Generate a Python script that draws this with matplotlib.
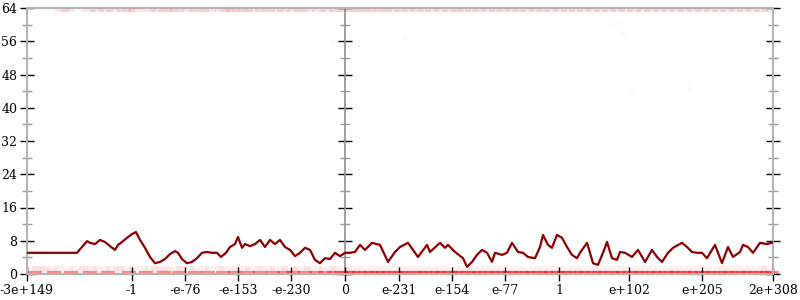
import matplotlib
matplotlib.use("Agg")
import matplotlib.pyplot as plt
from matplotlib.ticker import MultipleLocator

plt.rcParams["font.family"] = ["DejaVu Serif"]

# ─── Données (positions le long de l'axe des motifs de bits) ────────────────
TICK_POS    = [0, 105, 158, 211, 264, 318, 372, 425, 478, 532, 602, 675, 746]
TICK_LABELS = ["-3e+149", "-1", "-e-76", "-e-153", "-e-230", "0",
               "e-231", "e-154", "e-77", "1", "e+102", "e+205", "2e+308"]
ZERO_POS    = 318

line_x = [0, 50, 55, 60, 63, 68, 73, 78, 83, 88, 91, 95, 100, 105, 109, 113,
          118, 123, 128, 133, 138, 143, 148, 151, 155, 160, 165, 170, 175, 180,
          185, 190, 194, 199, 203, 208, 211, 215, 218, 223, 228, 233, 238, 243,
          248, 253, 258, 263, 268, 273, 278, 283, 288, 293, 298, 303, 308, 313,
          318, 323, 328, 333, 338, 345, 353, 361, 368, 373, 381, 386, 391, 400,
          403, 413, 418, 421, 428, 436, 440, 445, 450, 455, 460, 465, 468, 475,
          480, 485, 491, 496, 501, 508, 513, 516, 521, 525, 530, 535, 540, 545,
          550, 553, 560, 563, 566, 571, 576, 580, 585, 590, 593, 598, 605, 611,
          618, 625, 630, 635, 641, 646, 655, 660, 665, 670, 675, 680, 688, 695,
          701, 706, 713, 716, 721, 726, 733, 740, 747]
line_y = [5.1, 5.1, 6.5, 7.9, 7.5, 7.2, 8.2, 7.7, 6.7, 5.8, 7.0, 7.7, 8.7,
          9.6, 10.1, 8.2, 6.3, 4.1, 2.6, 2.9, 3.6, 4.8, 5.5, 5.1, 3.6, 2.6,
          2.9, 3.8, 5.1, 5.3, 5.1, 5.1, 4.1, 5.1, 6.5, 7.2, 8.9, 6.3, 7.2,
          6.7, 7.2, 8.2, 6.5, 8.2, 7.2, 8.2, 6.5, 5.8, 4.3, 5.1, 6.3, 5.8,
          3.4, 2.6, 3.8, 3.6, 5.1, 4.3, 5.1, 5.1, 5.3, 7.0, 5.8, 7.5, 7.0,
          2.9, 5.3, 6.5, 7.5, 5.8, 4.1, 7.0, 5.3, 7.5, 6.3, 7.0, 5.3, 3.8,
          1.7, 2.9, 4.6, 5.8, 5.1, 2.9, 5.1, 4.6, 5.1, 7.5, 5.3, 5.1, 4.1,
          3.8, 6.5, 9.4, 7.0, 6.3, 9.4, 8.7, 6.5, 4.6, 3.8, 5.1, 7.5, 5.1,
          2.6, 2.2, 5.1, 7.7, 3.8, 3.4, 5.3, 5.1, 4.1, 5.8, 2.9, 5.8, 4.1,
          2.9, 5.1, 6.3, 7.5, 6.5, 5.3, 5.1, 5.1, 3.8, 7.0, 2.6, 6.5, 4.1,
          5.3, 7.0, 6.5, 5.1, 7.5, 7.2, 7.7]

# points bruts, très pâles
bot_x = [8, 27, 44, 63, 81, 102, 119, 137, 152, 168, 181, 196, 208, 221, 233,
         246, 257, 266, 278, 289, 298, 307, 314, 321, 326, 332, 339, 344, 351,
         356, 362, 369, 374, 380, 387, 393, 398, 405, 411, 416, 423, 429, 434,
         441, 447, 452, 459, 465, 470, 477, 483, 488, 495, 501, 506, 513, 519,
         524, 531, 537, 542, 549, 555, 560, 567, 573, 578, 585, 591, 596, 603,
         609, 614, 621, 627, 632, 639, 645, 650, 657, 663, 668, 675, 681, 686,
         693, 699, 704, 711, 717, 722, 729, 735, 740, 745]
bot_y = 0.3
low_x = [5, 14, 22, 37, 53, 61, 74, 88, 96, 111, 127, 133, 146, 158, 173, 187,
         201, 214, 227, 239, 252, 263, 274, 286, 301, 312, 329, 347, 366, 384,
         402, 419, 437, 456, 474, 492, 511, 529, 548, 566, 584, 603, 621, 640,
         658, 676, 695, 713, 731, 744]
low_y = 1.2
top_x = [35, 41, 62, 70, 79, 86, 97, 101, 108, 122, 131, 138, 145, 150, 160,
         169, 175, 182, 195, 200, 206, 213, 219, 226, 235, 241, 250, 257, 266,
         274, 280, 292, 300, 309, 315, 323, 329, 337, 343, 352, 358, 366, 374,
         381, 390, 397, 405, 414, 422, 430, 437, 445, 452, 461, 469, 476, 485,
         492, 500, 509, 516, 524, 533, 541, 549, 557, 566, 574, 582, 591, 599,
         607, 616, 624, 633, 641, 650, 658, 667, 675, 684, 692, 700, 709, 717,
         726, 734, 742]
top_y = 63.6
stray_x = [306, 343, 378, 428, 583, 592, 595, 605, 663, 610]
stray_y = [55.9, 62.8, 57.0, 62.8, 59.6, 60.4, 57.7, 43.8, 44.7, 62.8]

# ─── Figure ─────────────────────────────────────────────────────────────────
fig = plt.figure(figsize=(8, 3), dpi=100)
ax = fig.add_axes([27 / 800, 26 / 300, 746 / 800, 266 / 300])

ax.scatter(bot_x, [bot_y] * len(bot_x), marker="_", s=110, color="red",
           alpha=0.45, linewidths=3, zorder=1, clip_on=False)
ax.scatter(low_x, [low_y] * len(low_x), marker="_", s=160, color="red",
           alpha=0.06, linewidths=4, zorder=1)
ax.scatter(top_x, [top_y] * len(top_x), marker="_", s=110, color="red",
           alpha=0.1, linewidths=3, zorder=1)
ax.scatter(stray_x, stray_y, s=22, color="red", alpha=0.025, linewidths=0,
           zorder=1)
ax.plot(line_x, line_y, color="#8b0000", lw=1.6, zorder=3)

ax.set_xlim(0, 746)
ax.set_ylim(0, 64)
ax.set_xticks(TICK_POS)
ax.set_xticklabels(TICK_LABELS)
ax.yaxis.set_major_locator(MultipleLocator(8))
ax.yaxis.set_minor_locator(MultipleLocator(4))

for s in ax.spines.values():
    s.set_color("#b3b3b3")
    s.set_linewidth(1.5)

ax.tick_params(axis="both", which="major", direction="inout", length=10,
               width=1, color="black", labelsize=9, pad=2)
ax.tick_params(axis="y", which="both", right=True)
ax.tick_params(axis="y", which="minor", direction="inout", length=7,
               width=1, color="#999999")

# axe vertical au zéro
mid = ax.secondary_yaxis(ZERO_POS / 746)
mid.yaxis.set_major_locator(MultipleLocator(8))
mid.yaxis.set_minor_locator(MultipleLocator(4))
mid.spines["left"].set_color("#909090")
mid.spines["left"].set_linewidth(1.2)
mid.tick_params(axis="y", which="major", direction="inout", length=10,
                width=1, color="black", labelleft=False)
mid.tick_params(axis="y", which="minor", direction="inout", length=7,
                width=1, color="#999999")

fig.savefig("out.png", dpi=100)
